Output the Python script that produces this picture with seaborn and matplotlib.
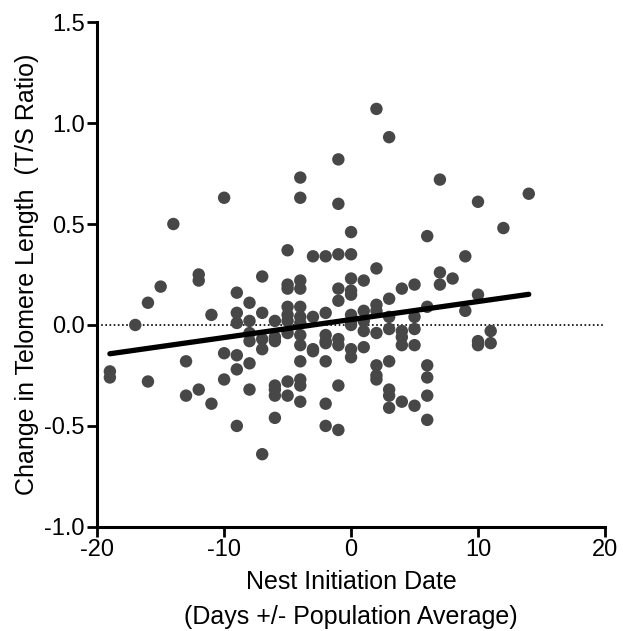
import numpy as np
import pandas as pd
import matplotlib
matplotlib.use('Agg')
import matplotlib.pyplot as plt
import seaborn as sns

# Nest initiation date (days +/- population average), one list per column of points
days = (
    [-19] * 2 + [-17] + [-16] * 2 + [-15] + [-14] + [-13] * 2 + [-12] * 3 + [-11] * 2
    + [-10] * 3 + [-9] * 6 + [-8] * 6 + [-7] * 5 + [-6] * 7 + [-5] * 9 + [-4] * 13
    + [-3] * 4 + [-2] * 8 + [-1] * 9 + [0] * 10 + [1] * 5 + [2] * 8 + [3] * 8
    + [4] * 5 + [5] * 5 + [6] * 6 + [7] * 3 + [8] + [9] * 2 + [10] * 4 + [11] * 2
    + [12] + [14]
)

# Change in telomere length (T/S ratio), same order as days
delta_ts = [
    -0.23, -0.26,                                   # -19
    0.00,                                           # -17
    0.11, -0.28,                                    # -16
    0.19,                                           # -15
    0.50,                                           # -14
    -0.18, -0.35,                                   # -13
    0.25, 0.22, -0.32,                              # -12
    0.05, -0.39,                                    # -11
    0.63, -0.14, -0.27,                             # -10
    0.16, 0.06, 0.01, -0.15, -0.22, -0.50,          # -9
    0.11, 0.02, -0.04, -0.08, -0.19, -0.32,         # -8
    0.24, 0.06, -0.07, -0.12, -0.64,                # -7
    0.02, -0.06, -0.08, -0.30, -0.32, -0.35, -0.46, # -6
    0.37, 0.20, 0.18, 0.09, 0.05, 0.02, -0.04, -0.28, -0.35,  # -5
    0.73, 0.63, 0.22, 0.18, 0.09, 0.04, 0.01, -0.05, -0.10, -0.18, -0.27, -0.30, -0.38,  # -4
    0.34, 0.04, -0.12, -0.13,                       # -3
    0.34, 0.06, -0.05, -0.08, -0.09, -0.18, -0.39, -0.50,  # -2
    0.82, 0.60, 0.35, 0.18, 0.12, -0.07, -0.10, -0.30, -0.52,  # -1
    0.46, 0.35, 0.23, 0.17, 0.15, 0.05, 0.02, 0.00, -0.12, -0.16,  # 0
    0.22, 0.07, 0.02, -0.03, -0.11,                 # 1
    1.07, 0.28, 0.10, 0.07, -0.04, -0.20, -0.25, -0.27,  # 2
    0.93, 0.13, 0.04, -0.02, -0.18, -0.32, -0.35, -0.41,  # 3
    0.18, -0.03, -0.06, -0.10, -0.38,               # 4
    0.20, 0.04, -0.02, -0.10, -0.40,                # 5
    0.44, 0.09, -0.20, -0.26, -0.35, -0.47,         # 6
    0.72, 0.26, 0.20,                               # 7
    0.23,                                           # 8
    0.34, 0.07,                                     # 9
    0.61, 0.15, -0.08, -0.10,                       # 10
    -0.03, -0.09,                                   # 11
    0.48,                                           # 12
    0.65,                                           # 14
]

x_ticks = [-20, -10, 0, 10, 20]
y_ticks = [-1.0, -0.5, 0.0, 0.5, 1.0, 1.5]

df = pd.DataFrame({'days': days, 'delta_ts': delta_ts})

sns.set_style('ticks')
plt.rcParams['font.family'] = ['Liberation Sans', 'DejaVu Sans']
plt.rcParams['axes.unicode_minus'] = False
plt.rcParams['text.color'] = 'black'
plt.rcParams['axes.labelcolor'] = 'black'
plt.rcParams['xtick.color'] = 'black'
plt.rcParams['ytick.color'] = 'black'

fig = plt.figure(figsize=(6.23, 6.31), dpi=100)
ax = fig.add_axes([0.156, 0.165, 0.815, 0.800])

# zero reference line
ax.axhline(0, color='black', linestyle=(0, (1, 1.5)), linewidth=1.2, zorder=1)

sns.regplot(data=df, x='days', y='delta_ts', ax=ax, ci=None,
            scatter_kws=dict(s=80, color='#474747', edgecolor='none', alpha=1, zorder=2),
            line_kws=dict(color='black', linewidth=3.8, zorder=3))

ax.set_xlim(-20, 20)
ax.set_ylim(-1.0, 1.5)
ax.set_xticks(x_ticks)
ax.set_yticks(y_ticks)
ax.set_yticklabels([f'{v:.1f}' for v in y_ticks])

ax.set_xlabel('Nest Initiation Date\n(Days +/- Population Average)', fontsize=18,
              labelpad=6, linespacing=1.6)
ax.set_ylabel('Change in Telomere Length  (T/S Ratio)', fontsize=18, labelpad=4)
ax.tick_params(axis='both', labelsize=17, width=2, length=7, color='black',
               labelcolor='black', pad=2)

for side in ['top', 'right']:
    ax.spines[side].set_visible(False)
for side in ['left', 'bottom']:
    ax.spines[side].set_linewidth(2.2)
    ax.spines[side].set_color('black')

fig.savefig('out.png', dpi=100)
